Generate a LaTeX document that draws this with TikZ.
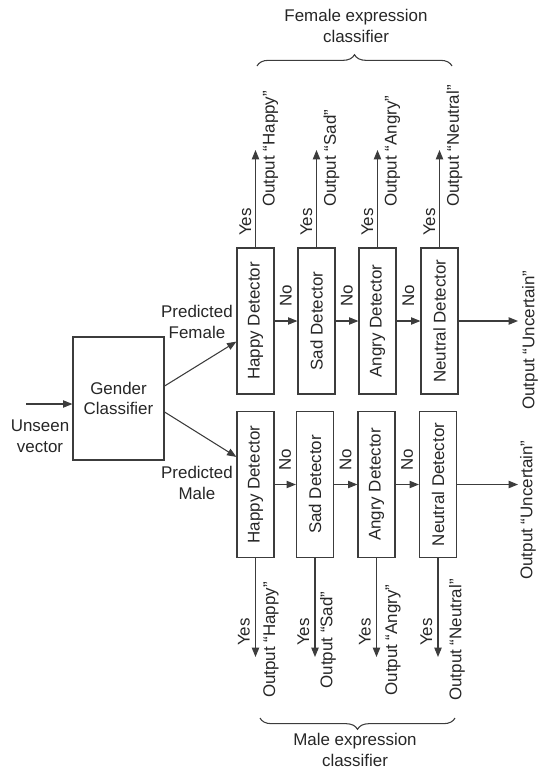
\documentclass[tikz,border=0pt]{standalone}
\usepackage{fontspec}
\setmainfont{Liberation Sans}
\usepackage{xcolor}
\usepackage{tikz}
\usetikzlibrary{arrows.meta,calc,decorations.pathreplacing}
\definecolor{edge}{HTML}{3C3C3C}
\definecolor{ink}{HTML}{262626}

\begin{document}
\begin{tikzpicture}[
  x=0.75pt,y=-0.75pt,
  font=\fontsize{12.7}{15.5}\selectfont,
  box/.style={rectangle,draw=edge,line width=0.9pt,inner sep=0pt,text=ink,align=center},
  det/.style={box,minimum width=27.75pt,minimum height=109.5pt},
  arr/.style={-{Triangle[length=7pt,width=5.5pt]},draw=edge,line width=0.8pt},
  lbl/.style={text=ink,inner sep=0pt,align=center},
  vlbl/.style={lbl,rotate=90},
  brc/.style={draw=edge,line width=0.8pt,decorate,decoration={brace,amplitude=8.5pt}}
]
\useasboundingbox (0,0) rectangle (541,768);

\node[box,minimum width=68.25pt,minimum height=92.25pt] (gc) at (118.5,398.5) {Gender\\Classifier};
\coordinate (in) at (26,404);
\draw[arr] (in) -- (in -| gc.west);
\node[lbl] (unseen) at (40,436) {Unseen\\vector};

\node[det] (hf) at (255.5,321) {\rotatebox{90}{Happy Detector}};
\node[det] (sf) at (316.5,321) {\rotatebox{90}{Sad Detector}};
\node[det] (af) at (377.5,321) {\rotatebox{90}{Angry Detector}};
\node[det] (nf) at (439.5,321) {\rotatebox{90}{Neutral Detector}};

\node[det] (hm) at (255.5,484.5) {\rotatebox{90}{Happy Detector}};
\node[det] (sm) at (315,484.5) {\rotatebox{90}{Sad Detector}};
\node[det] (am) at (376.5,484.5) {\rotatebox{90}{Angry Detector}};
\node[det] (nm) at (438,484.5) {\rotatebox{90}{Neutral Detector}};

\draw[arr] ($(gc.east)+(0,-12.5)$) -- ($(hf.south west)+(0,-53)$);
\draw[arr] ($(gc.east)+(0,13.5)$) -- ($(hm.north west)+(0,46)$);
\node[lbl,anchor=east] (pf) at (233,322) {Predicted\\Female};
\node[lbl,anchor=east] (pm) at (233,483) {Predicted\\Male};

\draw[arr] (hf) -- (sf);
\draw[arr] (sf) -- (af);
\draw[arr] (af) -- (nf);
\draw[arr] (hm) -- (sm);
\draw[arr] (sm) -- (am);
\draw[arr] (am) -- (nm);
\node[vlbl] (nof1) at ($(hf.east)!.5!(sf.west)+(0,-25)$) {No};
\node[vlbl] (nof2) at ($(sf.east)!.5!(af.west)+(0,-25)$) {No};
\node[vlbl] (nof3) at ($(af.east)!.5!(nf.west)+(0,-25)$) {No};
\node[vlbl] (nom1) at ($(hm.east)!.5!(sm.west)+(0,-25)$) {No};
\node[vlbl] (nom2) at ($(sm.east)!.5!(am.west)+(0,-25)$) {No};
\node[vlbl] (nom3) at ($(am.east)!.5!(nm.west)+(0,-25)$) {No};

\coordinate (uf) at (518,321);
\coordinate (um) at (518,484.5);
\draw[arr] (nf) -- (uf);
\draw[arr] (nm) -- (um);
\node[vlbl] (ufl) at (530,340) {Output ``Uncertain''};
\node[vlbl] (uml) at (528,510) {Output ``Uncertain''};

\coordinate (hfy) at (255.5,150);
\coordinate (sfy) at (316.5,150);
\coordinate (afy) at (377.5,150);
\coordinate (nfy) at (439.5,150);
\draw[arr] (hf) -- (hfy);
\draw[arr] (sf) -- (sfy);
\draw[arr] (af) -- (afy);
\draw[arr] (nf) -- (nfy);
\node[vlbl] (yhf) at (245.5,222) {Yes};
\node[vlbl] (ysf) at (306.5,222) {Yes};
\node[vlbl] (yaf) at (367.5,222) {Yes};
\node[vlbl] (ynf) at (429.5,222) {Yes};
\node[vlbl,anchor=west] (ohf) at (270.5,207) {Output ``Happy''};
\node[vlbl,anchor=west] (osf) at (331.5,207) {Output ``Sad''};
\node[vlbl,anchor=west] (oaf) at (392.5,207) {Output ``Angry''};
\node[vlbl,anchor=west] (onf) at (454.5,207) {Output ``Neutral''};

\coordinate (hmy) at (255.5,657);
\coordinate (smy) at (315,657);
\coordinate (amy) at (376.5,657);
\coordinate (nmy) at (438,657);
\draw[arr] (hm) -- (hmy);
\draw[arr] (sm) -- (smy);
\draw[arr] (am) -- (amy);
\draw[arr] (nm) -- (nmy);
\node[vlbl] (yhm) at (244,632) {Yes};
\node[vlbl] (ysm) at (303.5,632) {Yes};
\node[vlbl] (yam) at (365,632) {Yes};
\node[vlbl] (ynm) at (426.5,632) {Yes};
\node[vlbl] (ohm) at (271,640) {Output ``Happy''};
\node[vlbl] (osm) at (328,640) {Output ``Sad''};
\node[vlbl] (oam) at (393,640) {Output ``Angry''};
\node[vlbl] (onm) at (457,640) {Output ``Neutral''};

\draw[brc] (257,66) -- (452,66);
\node[lbl] (fec) at (356,26) {Female expression\\classifier};
\draw[brc] (455,718) -- (260,718);
\node[lbl] (mec) at (355,750) {Male expression\\classifier};
\end{tikzpicture}
\end{document}
